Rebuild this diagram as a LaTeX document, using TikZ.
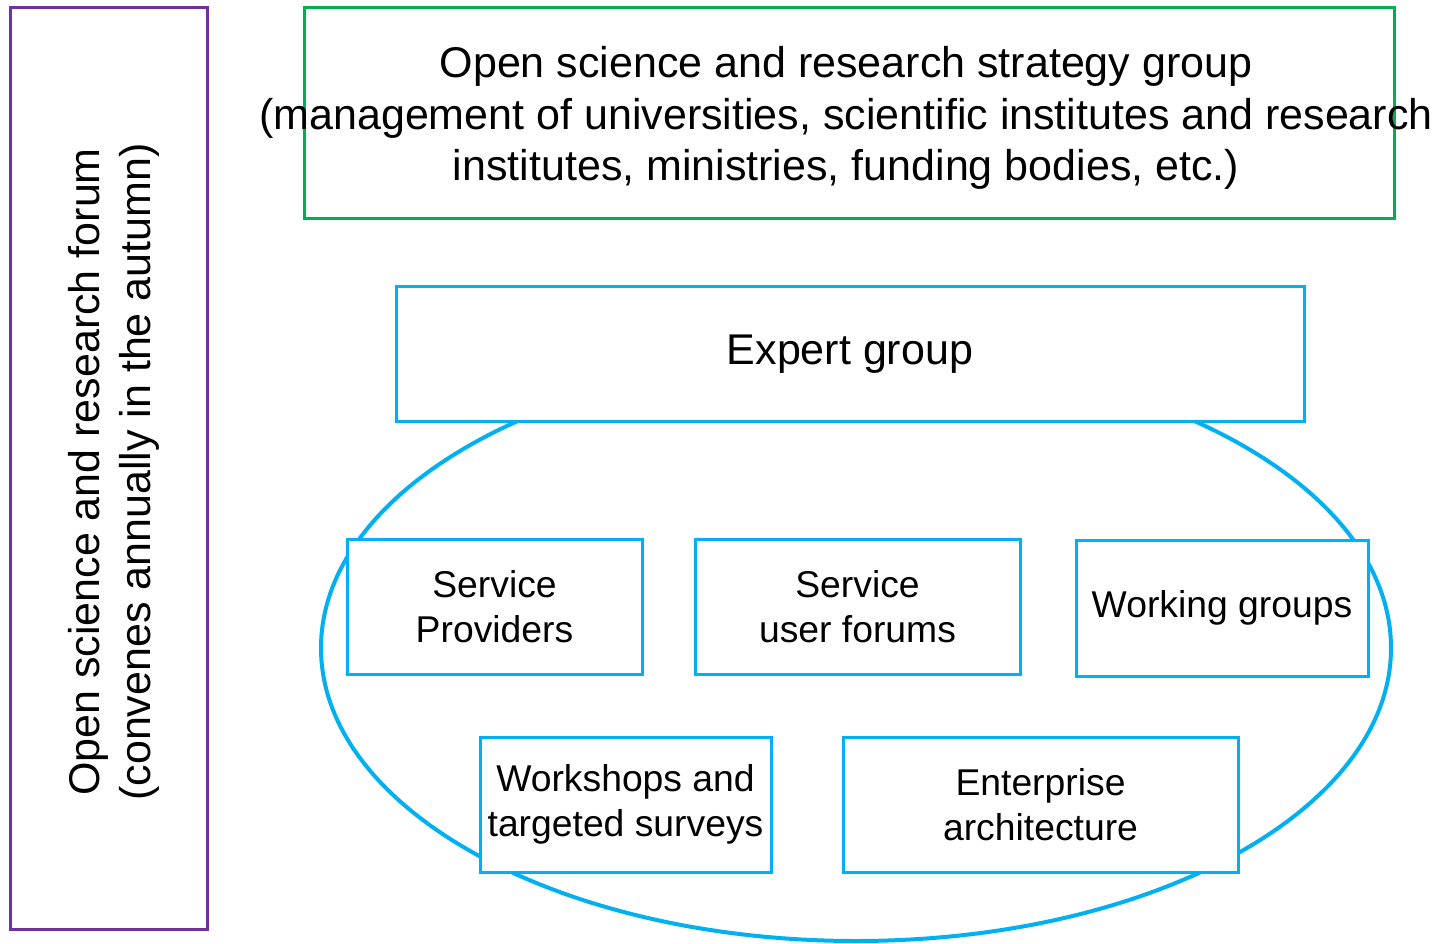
\documentclass[tikz,border=0pt]{standalone}
\usepackage{fontspec}
\setmainfont{Liberation Sans}
\usetikzlibrary{shapes.geometric}
\definecolor{boxblue}{RGB}{0,176,240}
\definecolor{boxgreen}{RGB}{0,176,80}
\definecolor{boxpurple}{RGB}{112,48,160}
\def\bigtext{\fontsize{43}{51.5}\selectfont}
\def\boxtext{\fontsize{37.3}{45}\selectfont}

\begin{document}
\begin{tikzpicture}[x=1pt,y=-1pt,
    bluebox/.style={draw=boxblue,line width=3pt,fill=white,align=center,font=\boxtext,inner sep=0pt,minimum height=135}]
\useasboundingbox (0,0) rectangle (1432,944);
\node[draw=boxpurple,line width=3pt,minimum width=197,minimum height=921,inner sep=0pt] (forum) at (108.5,468.5) {};
\node[rotate=90,align=center,font=\bigtext] (forumtext) at (114,472) {Open science and research forum\\(convenes annually in the autumn)};
\node[draw=boxgreen,line width=3pt,minimum width=1090,minimum height=211,inner sep=0pt] (strategy) at (849,113.5) {};
\node[align=center,font=\bigtext] (strategytext) at (846,118) {Open science and research strategy group\\(management of universities, scientific institutes and research\\institutes, ministries, funding bodies, etc.)};
\node[ellipse,draw=boxblue,line width=4pt,minimum width=1070,minimum height=586,inner sep=0pt] (cluster) at (856,648) {};
\node[bluebox,minimum width=908,font=\bigtext] (expert) at (850,354) {Expert group};
\node[bluebox,minimum width=295] (providers) at (494.5,606.5) {Service\\Providers};
\node[bluebox,minimum width=325] (userforums) at (857.5,606.5) {Service\\user forums};
\node[bluebox,minimum width=292,minimum height=136] (working) at (1222,608) {Working groups};
\node[bluebox,minimum width=291] (workshops) at (625.5,804.5) {Workshops and\\targeted surveys};
\node[bluebox,minimum width=395] (enterprise) at (1040.5,804.5) {Enterprise\\architecture};
\end{tikzpicture}
\end{document}
